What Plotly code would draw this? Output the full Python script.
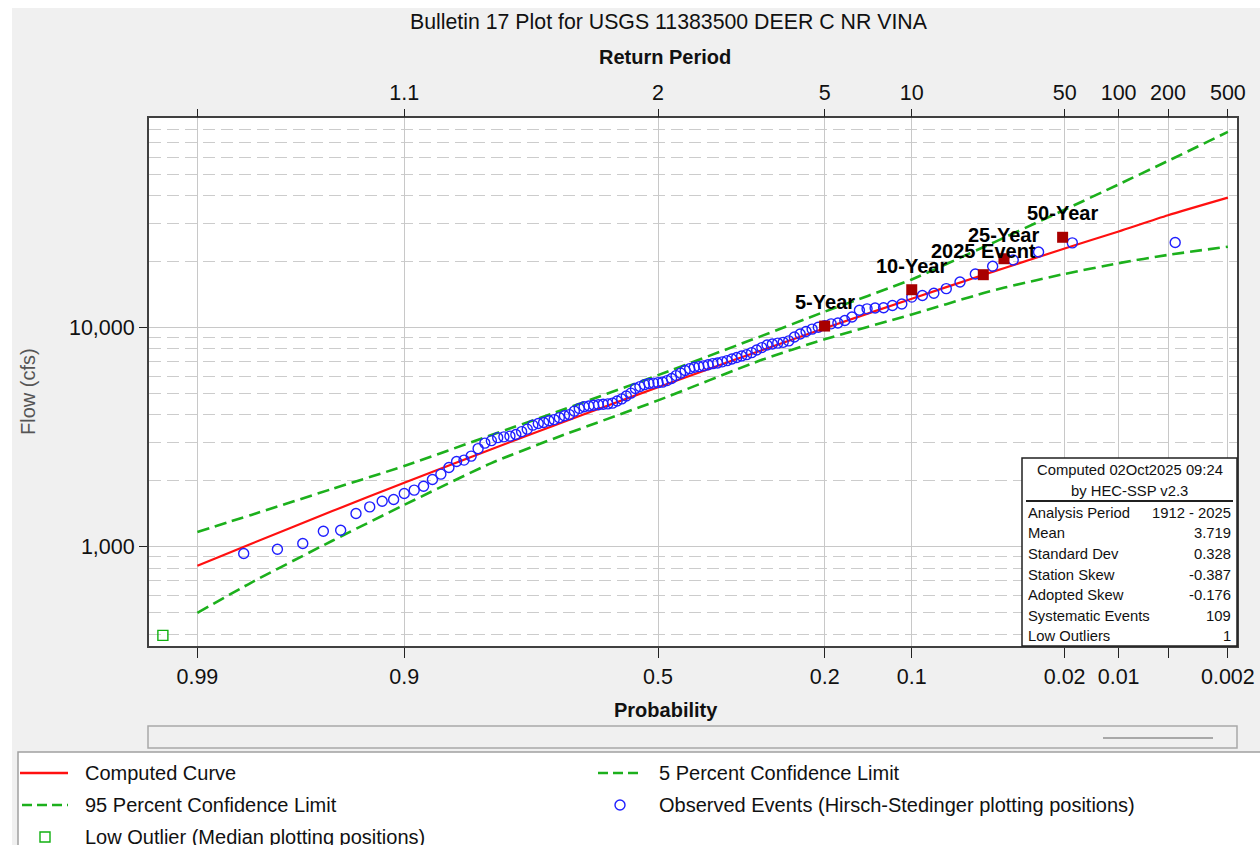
import math
import plotly.graph_objects as go
from statistics import NormalDist

# ---------------- data ----------------
# Computed LP-III frequency curve (exceedance probability, flow in cfs)
curve_prob = [0.99, 0.98, 0.95, 0.9, 0.8, 0.7, 0.6, 0.5, 0.4, 0.3, 0.2, 0.1,
              0.05, 0.04, 0.02, 0.01, 0.005, 0.002]
curve_flow = [820, 1034, 1457, 1963, 2793, 3584, 4416, 5353, 6470, 7902, 9941,
              13570, 17446, 18748, 22980, 27510, 32610, 39230]

# Confidence limits
ci_prob = [0.99, 0.98, 0.95, 0.9, 0.8, 0.7, 0.5, 0.3, 0.2, 0.1, 0.05, 0.04,
           0.02, 0.01, 0.005, 0.002]
ci05_flow = [1171, 1400, 1840, 2340, 3240, 4090, 6080, 9180, 11840, 16610,
             23350, 25820, 34560, 45080, 57710, 78270]
ci95_flow = [500, 688, 1067, 1555, 2413, 3126, 4662, 7140, 8860, 11500, 14400,
             15250, 17600, 19700, 21500, 23440]

# Observed annual peaks (Hirsch-Stedinger plotting positions)
obs_prob = [0.0045, 0.0182, 0.0273, 0.0364, 0.0455, 0.0545, 0.0636, 0.0727,
            0.0818, 0.0909, 0.1000, 0.1091, 0.1182, 0.1273, 0.1364, 0.1455,
            0.1545, 0.1636, 0.1727, 0.1818, 0.1909, 0.2000, 0.2091, 0.2182,
            0.2273, 0.2364, 0.2455, 0.2545, 0.2636, 0.2727, 0.2818, 0.2909,
            0.3000, 0.3091, 0.3182, 0.3273, 0.3364, 0.3455, 0.3545, 0.3636,
            0.3727, 0.3818, 0.3909, 0.4000, 0.4091, 0.4182, 0.4273, 0.4364,
            0.4455, 0.4545, 0.4636, 0.4727, 0.4818, 0.4909, 0.5000, 0.5091,
            0.5182, 0.5273, 0.5364, 0.5455, 0.5545, 0.5636, 0.5727, 0.5818,
            0.5909, 0.6000, 0.6091, 0.6182, 0.6273, 0.6364, 0.6455, 0.6545,
            0.6636, 0.6727, 0.6818, 0.6909, 0.7000, 0.7091, 0.7182, 0.7273,
            0.7364, 0.7455, 0.7545, 0.7636, 0.7727, 0.7818, 0.7909, 0.8000,
            0.8091, 0.8182, 0.8273, 0.8364, 0.8455, 0.8545, 0.8636, 0.8727,
            0.8818, 0.8909, 0.9000, 0.9091, 0.9182, 0.9273, 0.9364, 0.9455,
            0.9545, 0.9636, 0.9727, 0.9818]
obs_flow = [24500, 24400, 22170, 20370, 19070, 17590, 16170, 15080, 14370,
            14030, 13800, 12830, 12630, 12330, 12300, 12200, 12010, 11190,
            10790, 10510, 10420, 10230, 10050, 9860, 9610, 9360, 9070, 8710,
            8580, 8510, 8430, 8340, 8120, 7910, 7700, 7540, 7430, 7320, 7200,
            7080, 6990, 6910, 6860, 6780, 6700, 6650, 6600, 6510, 6380, 6210,
            6050, 5870, 5740, 5650, 5620, 5590, 5570, 5500, 5390, 5280, 5030,
            4880, 4735, 4630, 4530, 4494, 4475, 4456, 4428, 4395, 4358, 4285,
            4165, 4015, 3965, 3890, 3810, 3762, 3698, 3660, 3594, 3446, 3357,
            3260, 3202, 3179, 3152, 3054, 2975, 2808, 2596, 2490, 2455, 2305,
            2148, 2032, 1893, 1816, 1753, 1646, 1617, 1523, 1421, 1192, 1180,
            1036, 976, 933]

# Low outlier (median plotting position)
low_prob = [0.9938]
low_flow = [395]

# Labelled events
event_names = ["5-Year", "10-Year", "2025 Event", "25-Year", "50-Year"]
event_prob = [0.2, 0.1, 0.0502, 0.0403, 0.0205]
event_flow = [10180, 14910, 17460, 20650, 25870]

# Axis ticks
prob_ticks = [0.99, 0.9, 0.5, 0.2, 0.1, 0.02, 0.01, 0.005, 0.002]
prob_labels = ["0.99", "0.9", "0.5", "0.2", "0.1", "0.02", "0.01", "", "0.002"]
rp_labels = ["", "1.1", "2", "5", "10", "50", "100", "200", "500"]
flow_major = [1000, 10000]
flow_major_labels = ["1,000", "10,000"]
flow_minor = [400, 500, 600, 700, 800, 900, 2000, 3000, 4000, 5000, 6000,
              7000, 8000, 9000, 20000, 30000, 40000, 50000, 60000, 70000,
              80000, 90000]

# Summary statistics box
stats_header = ["Computed 02Oct2025 09:24", "by HEC-SSP v2.3"]
stats_names = ["Analysis Period", "Mean", "Standard Dev", "Station Skew",
               "Adopted Skew", "Systematic Events", "Low Outliers"]
stats_values = ["1912 - 2025", "3.719", "0.328", "-0.387", "-0.176", "109", "1"]

# ---------------- helpers ----------------
_nd = NormalDist()


def zq(p):
    """Normal-probability scale: exceedance probability -> standard deviate."""
    return _nd.inv_cdf(1.0 - p)


W, H = 1260, 845
PL, PR, PT, PB = 149, 1237, 118, 646   # plot-area edges in pixels
FONT = "Liberation Sans, Arial, sans-serif"


def fx(x):
    return (x - PL) / (PR - PL)


def fy(y):
    return (PB - y) / (PB - PT)


GREEN = "#1cb01c"
RED = "#ff1010"
BLUE = "#1f1fff"
DARKRED = "#a80000"
DASH = "12px,6px"

fig = go.Figure()

fig.add_trace(go.Scatter(x=[zq(p) for p in ci_prob], y=ci05_flow, mode="lines",
                         line=dict(color=GREEN, width=2.6, dash=DASH,
                                   shape="spline", smoothing=0.6),
                         name="5 Percent Confidence Limit"))
fig.add_trace(go.Scatter(x=[zq(p) for p in ci_prob], y=ci95_flow, mode="lines",
                         line=dict(color=GREEN, width=2.6, dash=DASH,
                                   shape="spline", smoothing=0.6),
                         name="95 Percent Confidence Limit"))
fig.add_trace(go.Scatter(x=[zq(p) for p in curve_prob], y=curve_flow,
                         mode="lines",
                         line=dict(color=RED, width=2.2, shape="spline",
                                   smoothing=0.6),
                         name="Computed Curve"))
fig.add_trace(go.Scatter(x=[zq(p) for p in obs_prob], y=obs_flow,
                         mode="markers",
                         marker=dict(symbol="circle-open", size=10, color=BLUE,
                                     line=dict(width=1.4, color=BLUE)),
                         name="Observed Events"))
fig.add_trace(go.Scatter(x=[zq(p) for p in low_prob], y=low_flow,
                         mode="markers",
                         marker=dict(symbol="square-open", size=10,
                                     color="#10b010",
                                     line=dict(width=1.4, color="#10b010")),
                         name="Low Outlier"))
fig.add_trace(go.Scatter(x=[zq(p) for p in event_prob], y=event_flow,
                         mode="markers",
                         marker=dict(symbol="square", size=11, color=DARKRED),
                         name="Events"))
# invisible trace that carries the return-period axis
fig.add_trace(go.Scatter(x=[zq(0.5)], y=[5000], xaxis="x2", mode="markers",
                         marker=dict(opacity=0), hoverinfo="skip"))

x_lo = (PL - 658) / 198.0
x_hi = (PR - 658) / 198.0

tick_font = dict(family=FONT, size=21.5, color="#111111")

fig.update_layout(
    width=W, height=H,
    margin=dict(l=PL, r=W - PR, t=PT, b=H - PB, pad=0, autoexpand=False),
    paper_bgcolor="#f0f0f0", plot_bgcolor="white",
    showlegend=False,
    xaxis=dict(range=[x_lo, x_hi], tickmode="array", automargin=False,
               tickvals=[zq(p) for p in prob_ticks], ticktext=prob_labels,
               showgrid=True, gridcolor="#c8c8c8", gridwidth=1.3,
               zeroline=False, ticks="outside", ticklen=10, tickwidth=1.3,
               tickcolor="#222222", showline=True, linecolor="#404040",
               linewidth=2, mirror=True, tickfont=tick_font),
    xaxis2=dict(range=[x_lo, x_hi], overlaying="x", side="top",
                anchor="y", tickmode="array", automargin=False,
                tickvals=[zq(p) for p in prob_ticks], ticktext=rp_labels,
                showgrid=False, zeroline=False, ticks="outside", ticklen=8,
                tickwidth=1.3, tickcolor="#222222", showline=False,
                tickfont=tick_font),
    yaxis=dict(type="log", range=[2.548, 4.957], tickmode="array",
               automargin=False,
               tickvals=flow_major, ticktext=flow_major_labels,
               showgrid=True, gridcolor="#c8c8c8", gridwidth=1.3,
               zeroline=False, ticks="outside", ticklen=8, tickwidth=1.3,
               tickcolor="#222222", showline=True, linecolor="#404040",
               linewidth=2, mirror=True, tickfont=tick_font,
               minor=dict(tickmode="array", tickvals=flow_minor, showgrid=True,
                          gridcolor="#cccccc", gridwidth=1.3, griddash=DASH,
                          ticks="")),
)

shapes = []
annos = []

# event labels above their markers (log axis -> annotation y in log10 units)
for name, p, q in zip(event_names, event_prob, event_flow):
    annos.append(dict(x=zq(p), y=math.log10(q), xref="x", yref="y",
                      text="<b>%s</b>" % name, showarrow=False, yshift=24,
                      xanchor="center", yanchor="middle",
                      font=dict(family=FONT, size=20, color="black")))

# white outer strips
shapes.append(dict(type="rect", xref="paper", yref="paper", x0=fx(0), x1=fx(W),
                   y0=fy(0), y1=fy(8), fillcolor="white", line=dict(width=0),
                   layer="below"))
shapes.append(dict(type="rect", xref="paper", yref="paper", x0=fx(0), x1=fx(12),
                   y0=fy(0), y1=fy(H), fillcolor="white", line=dict(width=0),
                   layer="below"))

# legend panel
shapes.append(dict(type="rect", xref="paper", yref="paper", x0=fx(18), x1=fx(W + 5),
                   y0=fy(752), y1=fy(H + 5), fillcolor="white",
                   line=dict(color="#a0a0a0", width=1.5)))

# empty strip under the probability title
shapes.append(dict(type="rect", xref="paper", yref="paper", x0=fx(148), x1=fx(1237),
                   y0=fy(726), y1=fy(748), fillcolor="#f0f0f0",
                   line=dict(color="#a8a8a8", width=1.5)))
shapes.append(dict(type="line", xref="paper", yref="paper", x0=fx(1103), x1=fx(1213),
                   y0=fy(738), y1=fy(738), line=dict(color="#909090", width=1.5)))

# statistics box
shapes.append(dict(type="rect", xref="paper", yref="paper", x0=fx(1022), x1=fx(1237),
                   y0=fy(458), y1=fy(646), fillcolor="white",
                   line=dict(color="#202020", width=1.5)))
shapes.append(dict(type="line", xref="paper", yref="paper", x0=fx(1026), x1=fx(1233),
                   y0=fy(501), y1=fy(501), line=dict(color="#202020", width=2)))

small = dict(family=FONT, size=14.8, color="#111111")
for txt, yy in zip(stats_header, [470, 491]):
    annos.append(dict(x=fx(1129.5), y=fy(yy), xref="paper", yref="paper",
                      text=txt, showarrow=False, xanchor="center",
                      yanchor="middle", font=small))
row_y = [512.5, 533, 554, 574.5, 595, 615.5, 636]
for nm, val, yy in zip(stats_names, stats_values, row_y):
    annos.append(dict(x=fx(1026), y=fy(yy), xref="paper", yref="paper", text=nm,
                      showarrow=False, xanchor="left", yanchor="middle",
                      font=small))
    annos.append(dict(x=fx(1233), y=fy(yy), xref="paper", yref="paper", text=val,
                      showarrow=False, xanchor="right", yanchor="middle",
                      font=small))

annos.append(dict(x=fx(669), y=fy(22), xref="paper", yref="paper",
                  text="Bulletin 17 Plot for USGS 11383500 DEER C NR VINA",
                  showarrow=False, xanchor="center", yanchor="middle",
                  font=dict(family=FONT, size=21.3, color="#111111")))
axis_title = dict(family=FONT, size=20, color="#111111")
annos.append(dict(x=fx(665), y=fy(57), xref="paper", yref="paper",
                  text="<b>Return Period</b>", showarrow=False,
                  xanchor="center", yanchor="middle", font=axis_title))
annos.append(dict(x=fx(666), y=fy(710), xref="paper", yref="paper",
                  text="<b>Probability</b>", showarrow=False, xanchor="center",
                  yanchor="middle", font=axis_title))
annos.append(dict(x=fx(28), y=fy(392), xref="paper", yref="paper",
                  text="Flow (cfs)", showarrow=False, textangle=-90,
                  xanchor="center", yanchor="middle",
                  font=dict(family=FONT, size=20, color="#555555")))

# legend entries
shapes.append(dict(type="line", xref="paper", yref="paper", x0=fx(20), x1=fx(68),
                   y0=fy(773), y1=fy(773), line=dict(color=RED, width=2.5)))
shapes.append(dict(type="line", xref="paper", yref="paper", x0=fx(22), x1=fx(68),
                   y0=fy(805), y1=fy(805),
                   line=dict(color=GREEN, width=2.5, dash="10px,5px")))
shapes.append(dict(type="line", xref="paper", yref="paper", x0=fx(598), x1=fx(643),
                   y0=fy(773), y1=fy(773),
                   line=dict(color=GREEN, width=2.5, dash="10px,5px")))
shapes.append(dict(type="circle", xref="paper", yref="paper", x0=fx(615), x1=fx(625),
                   y0=fy(800), y1=fy(810), line=dict(color=BLUE, width=1.4)))
shapes.append(dict(type="rect", xref="paper", yref="paper", x0=fx(40), x1=fx(50),
                   y0=fy(832), y1=fy(842), line=dict(color="#10b010", width=1.4)))

legend_font = dict(family=FONT, size=20, color="#111111")
legend_items = [("Computed Curve", 83, 773),
                ("5 Percent Confidence Limit", 657, 773),
                ("95 Percent Confidence Limit", 83, 805),
                ("Observed Events (Hirsch-Stedinger plotting positions)", 657, 805),
                ("Low Outlier (Median plotting positions)", 83, 837)]
for txt, xx, yy in legend_items:
    annos.append(dict(x=fx(xx), y=fy(yy), xref="paper", yref="paper", text=txt,
                      showarrow=False, xanchor="left", yanchor="middle",
                      font=legend_font))

fig.update_layout(shapes=shapes, annotations=annos)

fig.write_html("out.html")
